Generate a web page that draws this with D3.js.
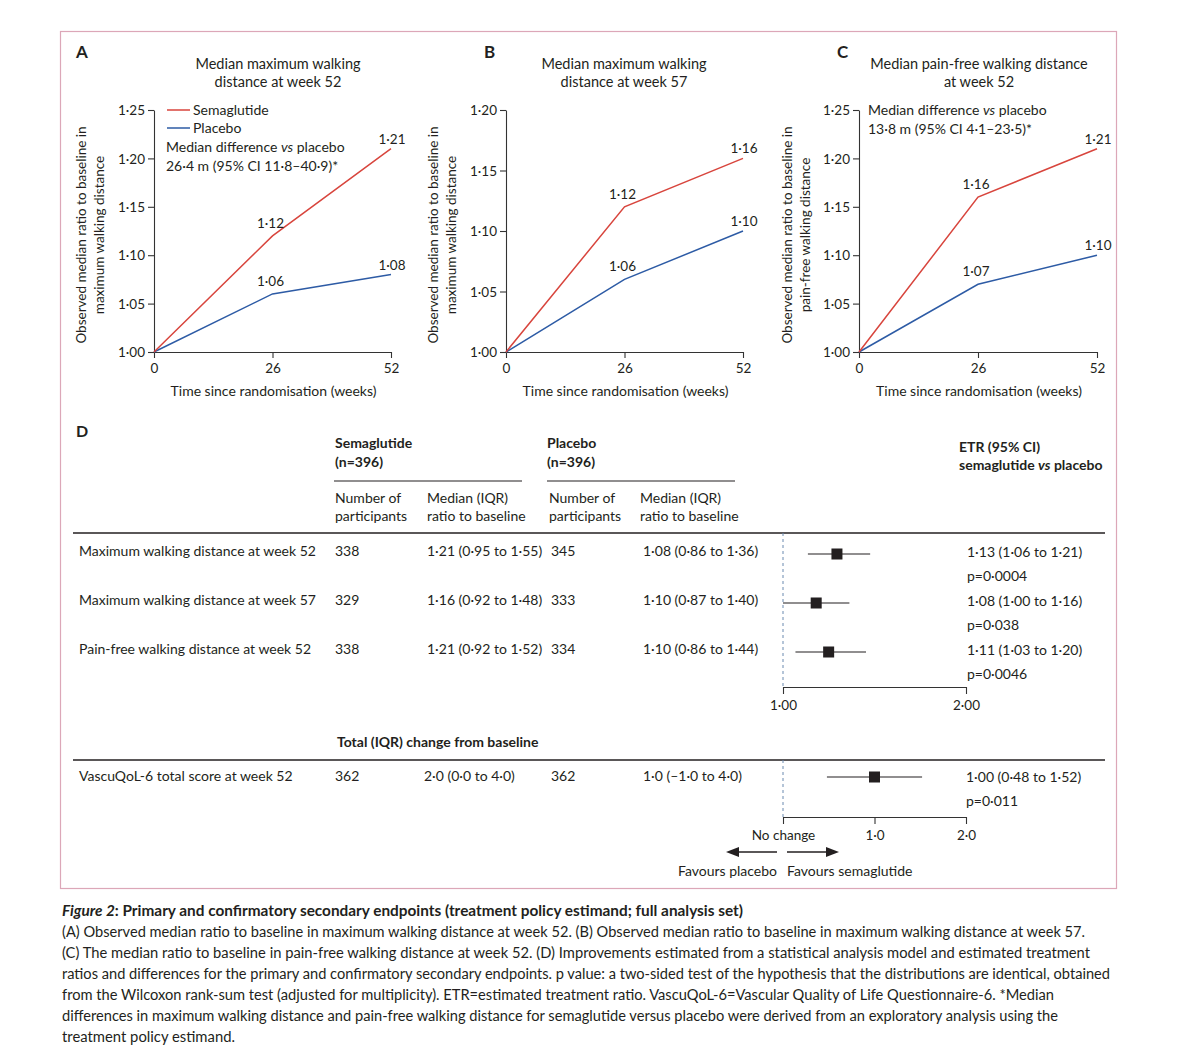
<!DOCTYPE html>
<html>
<head>
<meta charset="utf-8">
<script src="https://cdn.jsdelivr.net/npm/d3@7"></script>
<style>
  body { margin: 0; background: #fff; }
  text { font-family: Lato, "Open Sans", sans-serif; fill: #231f20; }
</style>
</head>
<body>
<div class="chart"></div>
<script>
// ---- data ----
const weeks = [0, 26, 52];

const semaA = [1.00, 1.12, 1.21];
const placA = [1.00, 1.06, 1.08];
const semaB = [1.00, 1.12, 1.16];
const placB = [1.00, 1.06, 1.10];
const semaC = [1.00, 1.16, 1.21];
const placC = [1.00, 1.07, 1.10];

const ticksA = [1.00, 1.05, 1.10, 1.15, 1.20, 1.25];
const ticksB = [1.00, 1.05, 1.10, 1.15, 1.20];
const ticksC = [1.00, 1.05, 1.10, 1.15, 1.20, 1.25];

const rowLabels = ["Maximum walking distance at week 52", "Maximum walking distance at week 57", "Pain-free walking distance at week 52"];
const semaN = [338, 329, 338];
const semaMedian = ["1·21 (0·95 to 1·55)", "1·16 (0·92 to 1·48)", "1·21 (0·92 to 1·52)"];
const placN = [345, 333, 334];
const placMedian = ["1·08 (0·86 to 1·36)", "1·10 (0·87 to 1·40)", "1·10 (0·86 to 1·44)"];
const etr = [1.13, 1.08, 1.11];
const etrLow = [1.06, 1.00, 1.03];
const etrHigh = [1.21, 1.16, 1.20];
const pValues = ["p=0·0004", "p=0·038", "p=0·0046"];
const etrTicks = [1.00, 2.00];

const qolLabel = ["VascuQoL-6 total score at week 52"];
const qolSemaN = [362];
const qolSemaMedian = ["2·0 (0·0 to 4·0)"];
const qolPlacN = [362];
const qolPlacMedian = ["1·0 (–1·0 to 4·0)"];
const qolDiff = [1.00];
const qolLow = [0.48];
const qolHigh = [1.52];
const qolP = ["p=0·011"];
const qolTicks = [0, 1, 2];

const captionLines = [
  "(A) Observed median ratio to baseline in maximum walking distance at week 52. (B) Observed median ratio to baseline in maximum walking distance at week 57.",
  "(C) The median ratio to baseline in pain-free walking distance at week 52. (D) Improvements estimated from a statistical analysis model and estimated treatment",
  "ratios and differences for the primary and confirmatory secondary endpoints. p value: a two-sided test of the hypothesis that the distributions are identical, obtained",
  "from the Wilcoxon rank-sum test (adjusted for multiplicity). ETR=estimated treatment ratio. VascuQoL-6=Vascular Quality of Life Questionnaire-6. *Median",
  "differences in maximum walking distance and pain-free walking distance for semaglutide versus placebo were derived from an exploratory analysis using the",
  "treatment policy estimand."
];
const captionEnds = [1085, 1090, 1110, 1054, 1058, 235];

// ---- helpers ----
const RED = "#d8453d";
const BLUE = "#2d5ba5";
const INK = "#231f20";
const dot = s => s.replace(/\./g, "·");
const f2 = v => dot(d3.format(".2f")(v));
const f1 = v => dot(d3.format(".1f")(v));

const svg = d3.select(".chart").append("svg")
  .attr("width", 1200)
  .attr("height", 1064);

svg.append("rect").attr("width", 1200).attr("height", 1064).attr("fill", "#fff");
svg.append("rect")
  .attr("x", 60.5).attr("y", 31.5)
  .attr("width", 1056).attr("height", 857)
  .attr("fill", "none").attr("stroke", "#dca7b8").attr("stroke-width", 1.2);

// ---- panels A, B, C ----
const panels = [
  { letter: "A", lx: 76, x0: 154, x1: 391, yMax: 1.25, ticks: ticksA, sema: semaA, plac: placA,
    title: ["Median maximum walking", "distance at week 52"], tx: 278,
    ylab: ["Observed median ratio to baseline in", "maximum walking distance"], yl: [86, 104] },
  { letter: "B", lx: 484, x0: 506, x1: 743, yMax: 1.20, ticks: ticksB, sema: semaB, plac: placB,
    title: ["Median maximum walking", "distance at week 57"], tx: 624,
    ylab: ["Observed median ratio to baseline in", "maximum walking distance"], yl: [438, 456] },
  { letter: "C", lx: 837, x0: 859, x1: 1097, yMax: 1.25, ticks: ticksC, sema: semaC, plac: placC,
    title: ["Median pain-free walking distance", "at week 52"], tx: 979,
    ylab: ["Observed median ratio to baseline in", "pain-free walking distance"], yl: [792, 810] }
];

panels.forEach(p => {
  const g = svg.append("g");
  const x = d3.scaleLinear().domain([0, 52]).range([p.x0, p.x1]);
  const y = d3.scaleLinear().domain([1.00, p.yMax]).range([352, 110]);

  g.append("text").attr("x", p.lx).attr("y", 58)
    .style("font-size", "17px").style("font-weight", 700).text(p.letter);

  g.selectAll(".title").data(p.title).join("text")
    .attr("x", p.tx).attr("y", (d, i) => 69 + i * 18)
    .attr("text-anchor", "middle").style("font-size", "14.5px").text(d => d);

  g.selectAll(".ylab").data(p.ylab).join("text")
    .attr("transform", (d, i) => `translate(${p.yl[i]},235) rotate(-90)`)
    .attr("text-anchor", "middle").style("font-size", "13.5px").text(d => d);

  const yAxis = g.append("g").attr("transform", `translate(${p.x0},0)`)
    .call(d3.axisLeft(y).tickValues(p.ticks).tickSize(6).tickSizeOuter(0).tickFormat(f2));
  const xAxis = g.append("g").attr("transform", "translate(0,352)")
    .call(d3.axisBottom(x).tickValues(weeks).tickSize(6).tickSizeOuter(0).tickPadding(5));
  [yAxis, xAxis].forEach(a => {
    a.selectAll("path, line").attr("stroke", "#333").attr("stroke-width", 1.1);
    a.selectAll("text").attr("fill", INK).style("font-size", "13.5px")
      .style("font-family", "Lato, 'Open Sans', sans-serif");
  });
  yAxis.selectAll("text").attr("dy", "0.35em");

  g.append("text").attr("x", (p.x0 + p.x1) / 2 + 1).attr("y", 396)
    .attr("text-anchor", "middle").style("font-size", "14px")
    .text("Time since randomisation (weeks)");

  const line = d3.line().x((d, i) => x(weeks[i])).y(d => y(d));
  [[p.plac, BLUE], [p.sema, RED]].forEach(([vals, col]) => {
    g.append("path").datum(vals).attr("d", line)
      .attr("fill", "none").attr("stroke", col).attr("stroke-width", 1.5);
    g.selectAll(null).data(vals.slice(1)).join("text")
      .attr("x", (d, i) => x(weeks[i + 1]) + (i === 0 ? -2 : 1))
      .attr("y", (d, i) => y(d) - (i === 0 ? 8 : 5))
      .attr("text-anchor", "middle").style("font-size", "13.5px")
      .text(d => f2(d));
  });
});

// legend + annotations
const leg = svg.append("g");
[["Semaglutide", RED, 110], ["Placebo", BLUE, 128]].forEach(([lab, col, yy]) => {
  leg.append("line").attr("x1", 167).attr("x2", 190).attr("y1", yy).attr("y2", yy)
    .attr("stroke", col).attr("stroke-width", 1.5);
  leg.append("text").attr("x", 193).attr("y", yy + 5).style("font-size", "14px").text(lab);
});
function medianNote(x0, y0, second) {
  const t = leg.append("text").attr("x", x0).attr("y", y0).style("font-size", "14px");
  t.append("tspan").text("Median difference ");
  t.append("tspan").style("font-style", "italic").text("vs");
  t.append("tspan").text(" placebo");
  leg.append("text").attr("x", x0).attr("y", y0 + 19).style("font-size", "14px").text(second);
}
medianNote(166, 152, "26·4 m (95% CI 11·8–40·9)*");
medianNote(868, 115, "13·8 m (95% CI 4·1–23·5)*");

// ---- panel D table ----
const tbl = svg.append("g");
tbl.append("text").attr("x", 76).attr("y", 437).style("font-size", "16px").style("font-weight", 700).text("D");

[["Semaglutide", 335, 334, 522], ["Placebo", 547, 547, 735]].forEach(([lab, xx, u0, u1]) => {
  tbl.append("text").attr("x", xx).attr("y", 448).style("font-size", "14px").style("font-weight", 700).text(lab);
  tbl.append("text").attr("x", xx).attr("y", 467).style("font-size", "14px").style("font-weight", 700).text("(n=396)");
  tbl.append("line").attr("x1", u0).attr("x2", u1).attr("y1", 481).attr("y2", 481)
    .attr("stroke", INK).attr("stroke-width", 1.2);
});
[[335, "Number of", "participants"], [427, "Median (IQR)", "ratio to baseline"],
 [549, "Number of", "participants"], [640, "Median (IQR)", "ratio to baseline"]].forEach(([xx, a, b]) => {
  tbl.append("text").attr("x", xx).attr("y", 503).style("font-size", "14px").text(a);
  tbl.append("text").attr("x", xx).attr("y", 521).style("font-size", "14px").text(b);
});
tbl.append("text").attr("x", 959).attr("y", 452).style("font-size", "14px").style("font-weight", 700).text("ETR (95% CI)");
const etrHead = tbl.append("text").attr("x", 959).attr("y", 470).style("font-size", "14px").style("font-weight", 700);
etrHead.append("tspan").text("semaglutide ");
etrHead.append("tspan").style("font-style", "italic").text("vs");
etrHead.append("tspan").text(" placebo");

[533, 760].forEach(yy => tbl.append("line").attr("x1", 73).attr("x2", 1105)
  .attr("y1", yy).attr("y2", yy).attr("stroke", INK).attr("stroke-width", 1.3));

const rowY = d3.scalePoint().domain(d3.range(rowLabels.length)).range([556, 654]);
const cols = [[rowLabels, 79], [semaN, 335], [semaMedian, 427], [placN, 551], [placMedian, 643]];
cols.forEach(([arr, xx]) => {
  tbl.selectAll(null).data(arr).join("text")
    .attr("x", xx).attr("y", (d, i) => rowY(i)).style("font-size", "14px").text(d => d);
});
tbl.selectAll(null).data(etr).join("text")
  .attr("x", 967).attr("y", (d, i) => rowY(i) + 1).style("font-size", "14px")
  .text((d, i) => `${f2(d)} (${f2(etrLow[i])} to ${f2(etrHigh[i])})`);
tbl.selectAll(null).data(pValues).join("text")
  .attr("x", 967).attr("y", (d, i) => rowY(i) + 25).style("font-size", "14px").text(d => d);

// forest plot, ratios
const etrX = d3.scaleLinear().domain([1.00, 1.20]).range([783, 866]);
const etrAxisX = d3.scaleLinear().domain([1.00, 2.00]).range([783, 966]);
tbl.append("line").attr("x1", etrX(1)).attr("x2", etrX(1)).attr("y1", 533).attr("y2", 687)
  .attr("stroke", "#6a8ab0").attr("stroke-width", 1).attr("stroke-dasharray", "3,3");
const fr = tbl.selectAll(null).data(etr).join("g");
fr.append("line").attr("x1", (d, i) => etrX(etrLow[i])).attr("x2", (d, i) => etrX(etrHigh[i]))
  .attr("y1", (d, i) => rowY(i) - 2).attr("y2", (d, i) => rowY(i) - 2)
  .attr("stroke", INK).attr("stroke-width", 1.2);
fr.append("rect").attr("x", d => etrX(d) - 5.5).attr("y", (d, i) => rowY(i) - 7.5)
  .attr("width", 11).attr("height", 11).attr("fill", INK);
const etrAxis = tbl.append("g").attr("transform", "translate(0,687)")
  .call(d3.axisBottom(etrAxisX).tickValues(etrTicks).tickSize(7).tickSizeOuter(0).tickFormat(f2).tickPadding(6));

// VascuQoL row
tbl.append("text").attr("x", 337).attr("y", 747).style("font-size", "14px").style("font-weight", 700)
  .text("Total (IQR) change from baseline");
[[qolLabel, 79], [qolSemaN, 335], [qolSemaMedian, 424], [qolPlacN, 551], [qolPlacMedian, 643]].forEach(([arr, xx]) => {
  tbl.selectAll(null).data(arr).join("text")
    .attr("x", xx).attr("y", 781).style("font-size", "14px").text(d => d);
});
tbl.selectAll(null).data(qolDiff).join("text")
  .attr("x", 966).attr("y", 782).style("font-size", "14px")
  .text((d, i) => `${f2(d)} (${f2(qolLow[i])} to ${f2(qolHigh[i])})`);
tbl.selectAll(null).data(qolP).join("text")
  .attr("x", 966).attr("y", 806).style("font-size", "14px").text(d => d);

const qolX = d3.scaleLinear().domain([0, 2]).range([783, 966]);
tbl.append("line").attr("x1", qolX(0)).attr("x2", qolX(0)).attr("y1", 760).attr("y2", 817)
  .attr("stroke", "#6a8ab0").attr("stroke-width", 1).attr("stroke-dasharray", "3,3");
const qr = tbl.selectAll(null).data(qolDiff).join("g");
qr.append("line").attr("x1", (d, i) => qolX(qolLow[i])).attr("x2", (d, i) => qolX(qolHigh[i]))
  .attr("y1", 777).attr("y2", 777).attr("stroke", INK).attr("stroke-width", 1.2);
qr.append("rect").attr("x", d => qolX(d) - 5.5).attr("y", 771.5)
  .attr("width", 11).attr("height", 11).attr("fill", INK);
const qolAxis = tbl.append("g").attr("transform", "translate(0,817)")
  .call(d3.axisBottom(qolX).tickValues(qolTicks).tickSize(7).tickSizeOuter(0).tickPadding(6)
    .tickFormat(d => d === 0 ? "No change" : f1(d)));

[etrAxis, qolAxis].forEach(a => {
  a.selectAll("path, line").attr("stroke", "#333").attr("stroke-width", 1.1);
  a.selectAll("text").attr("fill", INK).style("font-size", "13.5px")
    .style("font-family", "Lato, 'Open Sans', sans-serif");
});

// favours arrows
const arr = svg.append("g");
arr.append("line").attr("x1", 737).attr("x2", 777).attr("y1", 852).attr("y2", 852).attr("stroke", INK).attr("stroke-width", 1.3);
arr.append("path").attr("d", "M726,852 L739,847 L739,857 Z").attr("fill", INK);
arr.append("line").attr("x1", 787).attr("x2", 828).attr("y1", 852).attr("y2", 852).attr("stroke", INK).attr("stroke-width", 1.3);
arr.append("path").attr("d", "M839,852 L826,847 L826,857 Z").attr("fill", INK);
arr.append("text").attr("x", 777).attr("y", 876).attr("text-anchor", "end").style("font-size", "14px").text("Favours placebo");
arr.append("text").attr("x", 787).attr("y", 876).style("font-size", "14px").text("Favours semaglutide");

// ---- caption ----
const cap = svg.append("g");
const head = cap.append("text").attr("x", 62).attr("y", 916).style("font-size", "14.5px").style("font-weight", 700)
  .attr("textLength", 681).attr("lengthAdjust", "spacingAndGlyphs");
head.append("tspan").style("font-style", "italic").text("Figure 2");
head.append("tspan").text(": Primary and confirmatory secondary endpoints (treatment policy estimand; full analysis set)");
cap.selectAll(null).data(captionLines).join("text")
  .attr("x", 62).attr("y", (d, i) => 937 + i * 21)
  .attr("textLength", (d, i) => captionEnds[i] - 62).attr("lengthAdjust", "spacingAndGlyphs")
  .style("font-size", "14.5px").text(d => d);
</script>
</body>
</html>
